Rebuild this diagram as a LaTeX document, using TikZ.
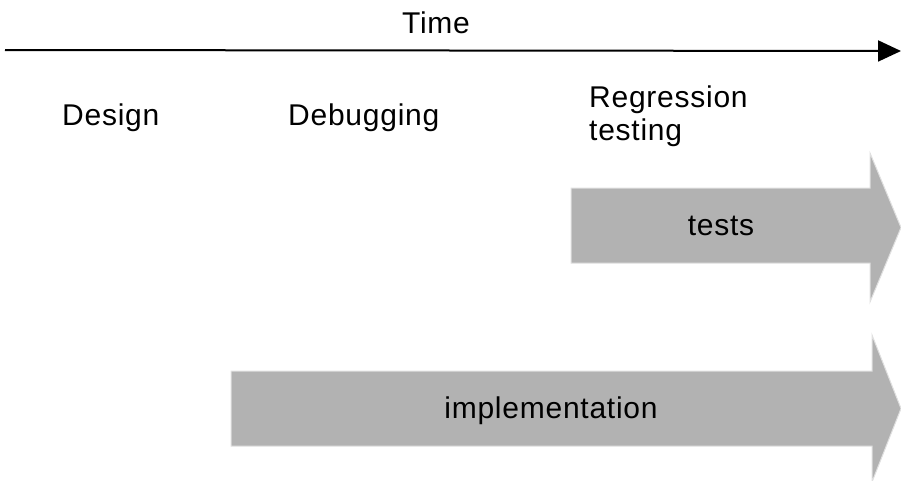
\documentclass[tikz,border=0pt]{standalone}
\usepackage{fontspec}
\setmainfont[LetterSpace=2.5]{Liberation Sans}
\usetikzlibrary{arrows.meta}
\tikzset{
  lbl/.style={inner sep=0pt, font=\fontsize{30}{33}\selectfont, text=black},
  grayarrow/.style={fill=black!30, draw=black!12, line width=1pt},
  timeline/.style={line width=2pt, -{Triangle[length=23pt,width=21pt]}}
}
\begin{document}
\begin{tikzpicture}[x=1pt,y=-1pt]
\useasboundingbox (0,0) rectangle (901,480);
% timeline
\coordinate (t0) at (5,50);
\coordinate (t1) at (901,51);
\draw[timeline] (t0) -- (t1);
\node[lbl, anchor=base] (time) at (436,33) {Time};
% phase labels
\node[lbl, anchor=base west] (design) at (62,125) {Design};
\node[lbl, anchor=base west] (debug) at (288,125) {Debugging};
\node[lbl, anchor=base west] (regr) at (589,107) {Regression};
\node[lbl, anchor=base west] (regr2) at (589,140) {testing};
% tests arrow
\draw[grayarrow] (571,188) -- (870,188) -- (870,153) -- (901,227.5) -- (870,302) -- (870,263) -- (571,263) -- cycle;
\node[lbl, anchor=base] (tests) at (721,235) {tests};
% implementation arrow
\draw[grayarrow] (231,371) -- (872,371) -- (872,335) -- (901,408.5) -- (872,482) -- (872,446) -- (231,446) -- cycle;
\node[lbl, anchor=base] (impl) at (551,418) {implementation};
\end{tikzpicture}
\end{document}
